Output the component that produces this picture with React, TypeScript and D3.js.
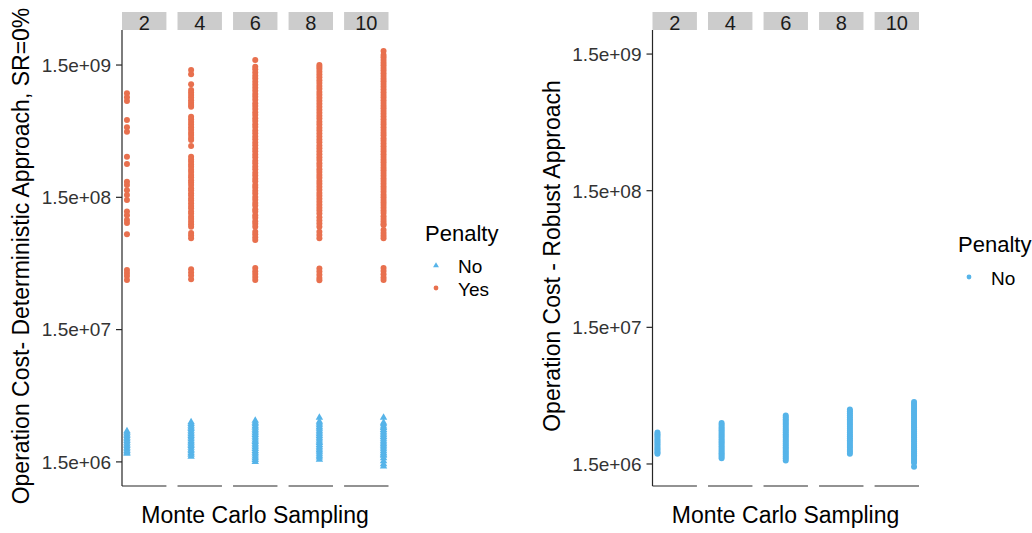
import * as d3 from 'd3';

const W = 1032;
const H = 533;
const FONT = '"Liberation Sans", Arial, sans-serif';

const facets = [2, 4, 6, 8, 10];
const tickValues = [1.5e6, 1.5e7, 1.5e8, 1.5e9];
const tickLabels = ['1.5e+06', '1.5e+07', '1.5e+08', '1.5e+09'];

// operation cost, in millions — deterministic approach, penalty = Yes
const detYes2 = [917, 855, 802, 576, 507, 470, 304, 268, 197, 186, 170, 156, 143, 117, 110, 101, 95.9, 78.8, 42.3, 40.2, 38.1, 35.6];
const detYes4 = [1375, 1276, 1072, 971, 930, 889, 852, 814, 779, 748, 726, 610, 584, 556, 533, 507, 486, 462, 443, 422, 406, 366, 304, 290, 279, 265, 255, 242, 233, 221, 213, 202, 194, 186, 176, 170, 161, 155, 147, 142, 135, 129, 124, 117, 113, 107, 103, 98, 94, 90, 80.6, 77.1, 73.5, 42.8, 40.6, 38.4, 36.0];
const detYes6 = [1636, 1456, 1392, 1318, 1247, 1185, 1120, 1063, 1010, 958, 905, 862, 818, 772, 736, 698, 660, 628, 594, 566, 534, 509, 481, 458, 433, 413, 390, 372, 351, 334, 316, 301, 284, 271, 256, 244, 230, 219, 207, 198, 186, 178, 168, 160, 151, 144, 136, 130, 122, 117, 110, 105, 99, 94.5, 90, 82.5, 79, 75, 71.3, 43.8, 41.5, 39.5, 37.5, 35.6];
const detYes8 = [1500, 1452, 1398, 1335, 1270, 1214, 1150, 1098, 1041, 992, 938, 895, 847, 806, 763, 727, 688, 655, 620, 591, 559, 532, 504, 480, 455, 433, 410, 391, 370, 352, 334, 318, 301, 287, 272, 259, 245, 233, 221, 211, 199, 190, 180, 171, 162, 154, 146, 139, 132, 125, 119, 113, 106, 100, 95, 90, 82.5, 78, 73.5, 43.5, 41.2, 39.0, 36.8, 35.4];
const detYes10 = [1914, 1785, 1715, 1640, 1562, 1494, 1425, 1362, 1298, 1240, 1182, 1130, 1076, 1028, 980, 936, 892, 852, 812, 775, 739, 706, 673, 642, 612, 585, 557, 532, 507, 484, 462, 441, 420, 401, 383, 365, 348, 333, 317, 303, 289, 276, 263, 251, 240, 229, 218, 208, 199, 190, 181, 173, 165, 157, 150, 143, 137, 131, 125, 119, 114, 108, 103, 98.6, 94.2, 92.6, 84.9, 80.5, 76.8, 73.5, 43.9, 41.6, 39.3, 37.2, 35.5];

// deterministic approach, penalty = No
const detNo2 = [2.59, 2.52, 2.45, 2.38, 2.31, 2.25, 2.19, 2.12, 2.06, 2.0, 1.94, 1.89, 1.84, 1.79, 1.75];
const detNo4 = [3.03, 2.94, 2.85, 2.77, 2.69, 2.61, 2.53, 2.46, 2.39, 2.32, 2.25, 2.18, 2.12, 2.06, 2.0, 1.94, 1.88, 1.83, 1.77, 1.72, 1.66];
const detNo6 = [3.11, 3.01, 2.92, 2.83, 2.75, 2.66, 2.58, 2.5, 2.43, 2.35, 2.28, 2.21, 2.15, 2.08, 2.02, 1.96, 1.9, 1.84, 1.78, 1.73, 1.67, 1.62, 1.57, 1.52];
const detNo8 = [3.28, 3.06, 2.96, 2.87, 2.78, 2.7, 2.61, 2.53, 2.46, 2.38, 2.31, 2.24, 2.17, 2.11, 2.04, 1.98, 1.92, 1.86, 1.81, 1.75, 1.69, 1.64, 1.58];
const detNo10 = [3.28, 3.0, 2.92, 2.82, 2.74, 2.65, 2.57, 2.49, 2.42, 2.34, 2.27, 2.2, 2.13, 2.07, 2.01, 1.95, 1.89, 1.83, 1.77, 1.72, 1.69, 1.62, 1.54, 1.46, 1.4];

// robust approach, penalty = No
const robNo2 = [2.55, 2.48, 2.41, 2.34, 2.27, 2.21, 2.15, 2.09, 2.03, 1.97, 1.92, 1.87, 1.82, 1.78];
const robNo4 = [2.99, 2.9, 2.81, 2.73, 2.65, 2.57, 2.5, 2.42, 2.35, 2.28, 2.21, 2.15, 2.09, 2.02, 1.96, 1.91, 1.85, 1.8, 1.75, 1.7, 1.65];
const robNo6 = [3.4, 3.29, 3.19, 3.09, 2.99, 2.9, 2.81, 2.72, 2.64, 2.56, 2.48, 2.4, 2.33, 2.26, 2.19, 2.12, 2.06, 1.99, 1.93, 1.87, 1.81, 1.76, 1.7, 1.65, 1.59];
const robNo8 = [3.76, 3.64, 3.52, 3.41, 3.3, 3.19, 3.09, 2.99, 2.9, 2.81, 2.72, 2.63, 2.55, 2.47, 2.39, 2.31, 2.24, 2.17, 2.1, 2.03, 1.97, 1.9, 1.84, 1.78];
const robNo10 = [4.26, 4.12, 3.99, 3.86, 3.73, 3.61, 3.49, 3.38, 3.27, 3.16, 3.06, 2.96, 2.86, 2.77, 2.68, 2.59, 2.51, 2.42, 2.35, 2.27, 2.2, 2.12, 2.05, 1.99, 1.92, 1.86, 1.8, 1.74, 1.69, 1.63, 1.58, 1.53, 1.43];

const detDomain = [9.86e5, 2.76e9];
const robDomain = [1.035e6, 2.25e9];

const BLUE = '#56b4e9';
const ORANGE = '#e8704e';

type Series = { name: string; color: string; shape: 'circle' | 'triangle'; values: number[][] };

const detSeries: Series[] = [
  { name: 'No', color: BLUE, shape: 'triangle', values: [detNo2, detNo4, detNo6, detNo8, detNo10] },
  { name: 'Yes', color: ORANGE, shape: 'circle', values: [detYes2, detYes4, detYes6, detYes8, detYes10] },
];
const robSeries: Series[] = [
  { name: 'No', color: BLUE, shape: 'circle', values: [robNo2, robNo4, robNo6, robNo8, robNo10] },
];

const triangle = d3.symbol(d3.symbolTriangle, 24)() as string;
const triangleKey = d3.symbol(d3.symbolTriangle, 15)() as string;

function Mark({ shape, color, cx, cy, legend }: { shape: string; color: string; cx: number; cy: number; legend?: boolean }) {
  if (shape === 'triangle') {
    return <path d={legend ? triangleKey : triangle} transform={`translate(${cx},${cy + 0.6})`} fill={color} />;
  }
  return <circle cx={cx} cy={cy} r={legend ? 2.4 : 3} fill={color} />;
}

function Panel({ left, yDomain, series, yTitle, legendX, legendY, gap }: {
  left: number; yDomain: number[]; series: Series[]; yTitle: string; legendX: number; legendY: number; gap: number;
}) {
  const top = 30, bottom = 486;
  const fx = d3.scaleBand<number>().domain(facets).range([left, left + 266.5]).paddingInner(0.2).paddingOuter(0);
  const x = d3.scaleLinear().domain([0.85, 11.15]).range([0, fx.bandwidth()]);
  const y = d3.scaleLog().domain(yDomain).range([bottom, top]);
  const axisColor = '#262626';

  return (
    <g fontFamily={FONT}>
      {/* strips */}
      {facets.map(f => (
        <g key={`s${f}`}>
          <rect x={fx(f)} y={12} width={fx.bandwidth()} height={18} fill="#cccccc" />
          <text x={(fx(f) as number) + fx.bandwidth() / 2} y={30} textAnchor="middle" fontSize={20} fill="#1a1a1a">{f}</text>
        </g>
      ))}

      {/* points */}
      {series.map(s => facets.map((f, i) => (
        <g key={`${s.name}${f}`}>
          {s.values[i].map((v, j) => (
            <Mark key={j} shape={s.shape} color={s.color} cx={(fx(f) as number) + x(f)} cy={y(v * 1e6)} />
          ))}
        </g>
      )))}

      {/* axes */}
      <line x1={left} x2={left} y1={top} y2={bottom} stroke={axisColor} strokeWidth={1.2} />
      {facets.map(f => (
        <line key={`xa${f}`} x1={fx(f)} x2={(fx(f) as number) + fx.bandwidth()} y1={bottom} y2={bottom} stroke={axisColor} strokeWidth={1.2} />
      ))}
      {tickValues.map((t, i) => (
        <g key={`t${i}`}>
          <line x1={left - 6} x2={left} y1={y(t)} y2={y(t)} stroke={axisColor} strokeWidth={1.2} />
          <text x={left - 11} y={y(t)} dy="0.36em" textAnchor="end" fontSize={19} fill="#333333">{tickLabels[i]}</text>
        </g>
      ))}

      <text transform={`translate(${left - 93},${(top + bottom) / 2 - 2}) rotate(-90)`} textAnchor="middle" fontSize={23} fill="#000">{yTitle}</text>
      <text x={left + 133} y={523} textAnchor="middle" fontSize={23} fill="#000">Monte Carlo Sampling</text>

      {/* legend */}
      <text x={legendX} y={legendY} fontSize={22} fill="#000">Penalty</text>
      {series.map((s, i) => (
        <g key={`l${s.name}`}>
          <Mark shape={s.shape} color={s.color} cx={legendX + 11} cy={legendY + gap - 8 + i * 23} legend />
          <text x={legendX + 33} y={legendY + gap + i * 23} fontSize={19} fill="#000">{s.name}</text>
        </g>
      ))}
    </g>
  );
}

export default function App() {
  return (
    <svg width={W} height={H} style={{ position: 'absolute', left: 0, top: 0, background: '#fff' }}>
      <rect width={W} height={H} fill="#fff" />
      <Panel left={122} yDomain={detDomain} series={detSeries}
        yTitle="Operation Cost- Deterministic Approach, SR=0%" legendX={425} legendY={241} gap={32} />
      <Panel left={652.5} yDomain={robDomain} series={robSeries}
        yTitle="Operation Cost - Robust Approach" legendX={958} legendY={252} gap={33} />
    </svg>
  );
}
